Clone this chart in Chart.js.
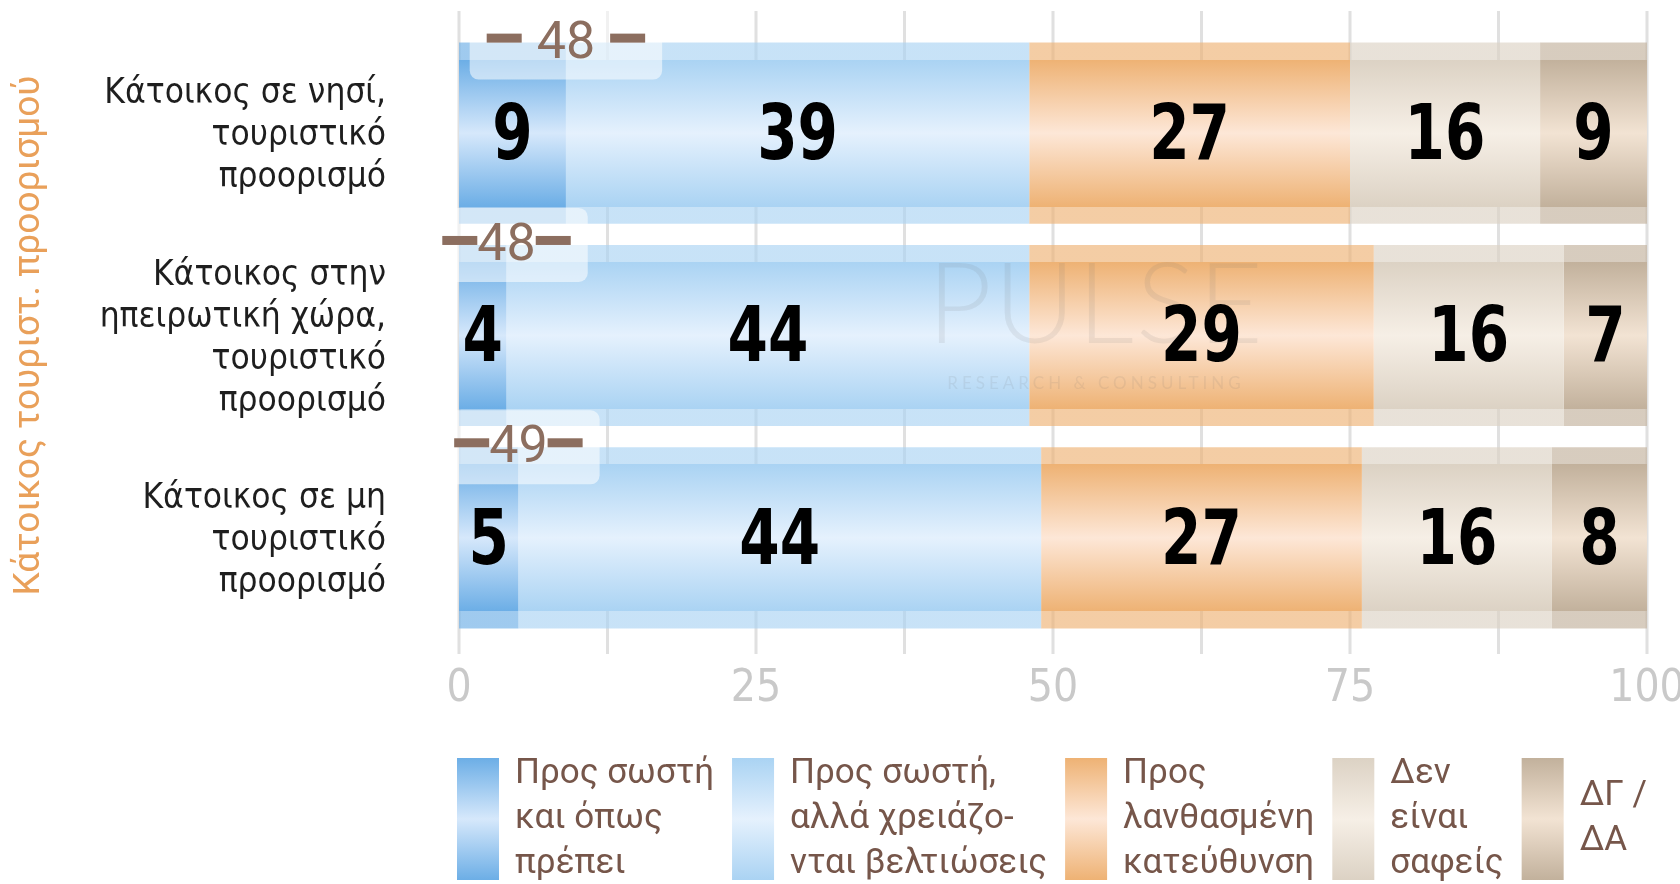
<!DOCTYPE html>
<html>
<head>
<meta charset="utf-8">
<script src="https://cdn.jsdelivr.net/npm/chart.js@4"></script>
<style>
  html, body { margin: 0; padding: 0; background: #fff; }
</style>
</head>
<body>
<canvas id="myChart" width="1680" height="884"></canvas>
<script>
// categories on the y axis (multi-line labels)
var categories = [
  ['Κάτοικος σε νησί,', 'τουριστικό', 'προορισμό'],
  ['Κάτοικος στην', 'ηπειρωτική χώρα,', 'τουριστικό', 'προορισμό'],
  ['Κάτοικος σε μη', 'τουριστικό', 'προορισμό']
];
var axisTitle = 'Κάτοικος τουριστ. προορισμού';

// series names (legend text, split in lines)
var seriesNames = [
  ['Προς σωστή', 'και όπως', 'πρέπει'],
  ['Προς σωστή,', 'αλλά χρειάζο-', 'νται βελτιώσεις'],
  ['Προς', 'λανθασμένη', 'κατεύθυνση'],
  ['Δεν', 'είναι', 'σαφείς'],
  ['ΔΓ /', 'ΔΑ']
];

// values (%)
var rightAsShould = [9, 4, 5];
var rightNeedsWork = [39, 44, 44];
var wrongWay = [27, 29, 27];
var notClear = [16, 16, 16];
var dkNa = [9, 7, 8];

// x axis tick labels
var xTickLabels = [0, 25, 50, 75, 100];

// colours: edge of the bar, middle of the bar
var colors = [
  { edge: [108, 174, 230], mid: [214, 232, 251] },
  { edge: [170, 211, 243], mid: [229, 241, 253] },
  { edge: [238, 178, 116], mid: [253, 231, 215] },
  { edge: [220, 210, 196], mid: [246, 239, 230] },
  { edge: [194, 177, 156], mid: [242, 227, 211] }
];

var catPct = 0.895;
var bandFrac = 0.094;
var narrow = '"Liberation Sans Narrow", "DejaVu Sans Condensed", sans-serif';

function rgba(c, a) {
  return 'rgba(' + c[0] + ',' + c[1] + ',' + c[2] + ',' + a + ')';
}

// vertical gradient for each bar
function barFill(i) {
  return function (context) {
    var chart = context.chart;
    var area = chart.chartArea;
    if (!area || context.dataIndex === undefined) return rgba(colors[i].edge, 1);
    var band = (area.bottom - area.top) / categories.length;
    var h = band * catPct;
    var c = chart.scales.y.getPixelForValue(context.dataIndex);
    var g = chart.ctx.createLinearGradient(0, c - h / 2, 0, c + h / 2);
    var e = colors[i].edge, m = colors[i].mid;
    g.addColorStop(0, rgba(e, 0.65));
    g.addColorStop(bandFrac, rgba(e, 0.65));
    g.addColorStop(bandFrac + 0.001, rgba(e, 1));
    g.addColorStop(0.5, rgba(m, 1));
    g.addColorStop(1 - bandFrac - 0.001, rgba(e, 1));
    g.addColorStop(1 - bandFrac, rgba(e, 0.65));
    g.addColorStop(1, rgba(e, 0.65));
    return g;
  };
}

var allSeries = [rightAsShould, rightNeedsWork, wrongWay, notClear, dkNa];

// gridlines every 12.5, a bit longer than the plot area
var gridPlugin = {
  id: 'gridPlugin',
  beforeDatasetsDraw: function (chart) {
    var ctx = chart.ctx, area = chart.chartArea, x = chart.scales.x;
    ctx.save();
    ctx.strokeStyle = '#e0e0e0';
    ctx.lineWidth = 3;
    x.ticks.forEach(function (t) {
      var px = x.getPixelForValue(t.value);
      ctx.beginPath();
      ctx.moveTo(px, area.top - 21);
      ctx.lineTo(px, area.bottom + 15);
      ctx.stroke();
    });
    ctx.restore();
  }
};

// numbers in bars, watermark and the sum labels
var labelPlugin = {
  id: 'labelPlugin',
  afterDatasetsDraw: function (chart) {
    var ctx = chart.ctx;
    ctx.save();

    // watermark
    var cx = 1096;
    ctx.fillStyle = 'rgba(110,110,110,0.11)';
    ctx.textAlign = 'center';
    ctx.textBaseline = 'alphabetic';
    ctx.font = '300 112px Lato';
    ctx.letterSpacing = '2px';
    ctx.fillText('PULSE', cx, 343);
    ctx.font = '17px Lato';
    ctx.letterSpacing = '4px';
    ctx.fillText('RESEARCH & CONSULTING', cx, 389);
    ctx.letterSpacing = '0px';

    // values, squeezed horizontally
    ctx.fillStyle = '#000';
    ctx.font = 'bold 76px ' + narrow;
    ctx.textBaseline = 'middle';
    var sx = 0.85;
    chart.data.datasets.forEach(function (ds, i) {
      chart.getDatasetMeta(i).data.forEach(function (el, j) {
        var mx = (el.x + el.base) / 2;
        ctx.setTransform(sx, 0, 0, 1, mx * (1 - sx), 0);
        ctx.fillText(String(ds.data[j]), mx, el.y + 6);
      });
    });
    ctx.setTransform(1, 0, 0, 1, 0, 0);

    // sum of the two "right" answers, above each bar
    var dashGap = [15, 0, 0];
    var x = chart.scales.x;
    chart.getDatasetMeta(0).data.forEach(function (el, j) {
      var sum = rightAsShould[j] + rightNeedsWork[j];
      var px = x.getPixelForValue(rightAsShould[j]);
      var py = el.y - el.height / 2;
      ctx.font = '52px Roboto';
      var tw = ctx.measureText(String(sum)).width;
      var dash = 35, gap = dashGap[j];
      var w = tw + 2 * dash + 2 * gap + 34;
      ctx.fillStyle = 'rgba(255,255,255,0.55)';
      ctx.beginPath();
      ctx.roundRect(px - w / 2, py - 37, w, 74, 9);
      ctx.fill();
      ctx.fillStyle = '#8c6e5f';
      ctx.textAlign = 'center';
      ctx.textBaseline = 'middle';
      ctx.fillText(String(sum), px, py + 2);
      var half = tw / 2 + gap;
      ctx.fillRect(px - half - dash, py - 9, dash, 9);
      ctx.fillRect(px + half, py - 9, dash, 9);
    });
    ctx.restore();
  }
};

// legend with tall gradient boxes and multi-line text
var legendPlugin = {
  id: 'legendPlugin',
  afterDraw: function (chart) {
    var ctx = chart.ctx;
    var x = 457, top = 758, h = 122, bw = 42, lineH = 45;
    ctx.save();
    ctx.font = '35px Roboto';
    ctx.textAlign = 'left';
    ctx.textBaseline = 'middle';
    seriesNames.forEach(function (lines, i) {
      var g = ctx.createLinearGradient(0, top, 0, top + h);
      g.addColorStop(0, rgba(colors[i].edge, 1));
      g.addColorStop(0.5, rgba(colors[i].mid, 1));
      g.addColorStop(1, rgba(colors[i].edge, 1));
      ctx.fillStyle = g;
      ctx.fillRect(x, top, bw, h);
      ctx.fillStyle = '#76564a';
      var tx = x + bw + 16;
      var y0 = top + h / 2 - (lines.length - 1) * lineH / 2;
      var maxW = 0;
      lines.forEach(function (s, k) {
        ctx.fillText(s, tx, y0 + k * lineH);
        maxW = Math.max(maxW, ctx.measureText(s).width);
      });
      x = tx + maxW + 18;
    });
    ctx.restore();
  }
};

var ctx = document.getElementById('myChart').getContext('2d');

var myChart = new Chart(ctx, {
  type: 'bar',
  data: {
    labels: categories,
    datasets: allSeries.map(function (d, i) {
      return {
        label: seriesNames[i].join(' '),
        data: d,
        backgroundColor: barFill(i),
        borderWidth: 0,
        categoryPercentage: catPct,
        barPercentage: 1
      };
    })
  },
  plugins: [gridPlugin, labelPlugin, legendPlugin],
  options: {
    indexAxis: 'y',
    responsive: false,
    animation: false,
    layout: { padding: { top: 32, right: 33, left: 0, bottom: 0 } },
    plugins: {
      legend: { display: false },
      tooltip: { enabled: false }
    },
    scales: {
      x: {
        stacked: true,
        min: 0,
        max: 100,
        grid: { display: false, drawTicks: false },
        border: { display: false },
        ticks: {
          stepSize: 12.5,
          autoSkip: false,
          maxRotation: 0,
          padding: 24,
          color: '#c9c9c9',
          font: { family: narrow, size: 44 },
          callback: function (v) { return xTickLabels.indexOf(v) >= 0 ? String(v) : ''; }
        },
        afterFit: function (s) {
          s.height = 245;
          s.paddingLeft = 0;
          s.paddingRight = 0;
        }
      },
      y: {
        stacked: true,
        grid: { display: false, drawTicks: false },
        border: { display: false },
        ticks: {
          color: '#1e1e1e',
          padding: 73,
          labelOffset: 3,
          font: { family: narrow, size: 35, lineHeight: 1.2 }
        },
        title: {
          display: true,
          text: axisTitle,
          color: '#e9a05a',
          font: { family: 'Roboto', size: 37 },
          padding: { top: 8, bottom: 0 }
        },
        afterFit: function (s) {
          s.width = 459;
          s.paddingTop = 0;
          s.paddingBottom = 0;
        }
      }
    }
  }
});
</script>
</body>
</html>
